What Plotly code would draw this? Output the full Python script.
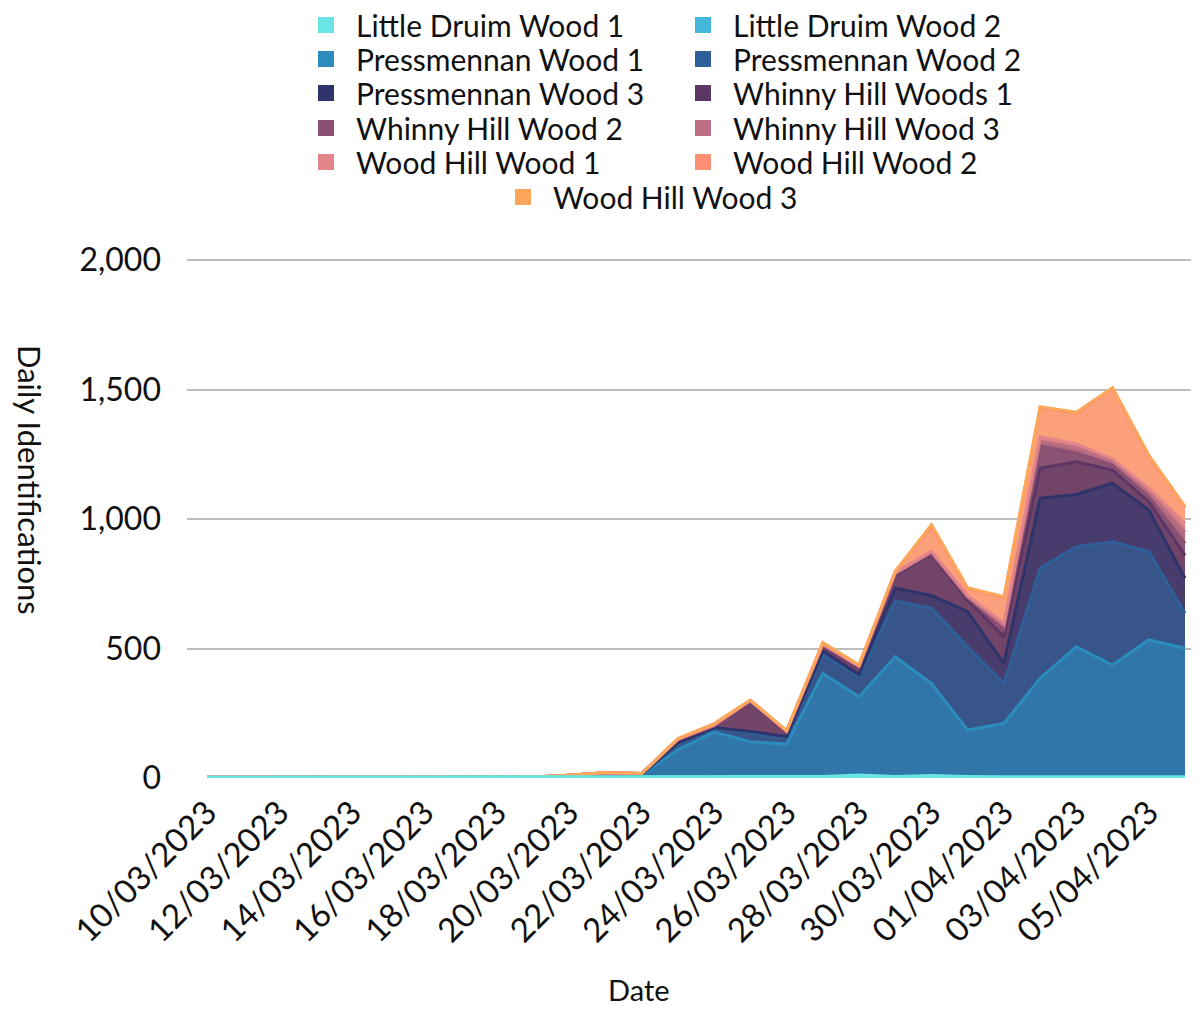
import plotly.graph_objects as go
import pandas as pd

dates = list(pd.date_range("2023-03-10", "2023-04-06", freq="D"))

series_names = [
    "Little Druim Wood 1", "Little Druim Wood 2",
    "Pressmennan Wood 1", "Pressmennan Wood 2", "Pressmennan Wood 3",
    "Whinny Hill Woods 1", "Whinny Hill Wood 2", "Whinny Hill Wood 3",
    "Wood Hill Wood 1", "Wood Hill Wood 2", "Wood Hill Wood 3",
]

N = None
little_druim_1 = [4, 4, 4, 4, 4, 4, 4, 4, 4, 4, 4, 4, 4, 5, 5, 5, 5, 6, 12, 6, 10, 6, 5, 5, 5, 5, 5, 5]
little_druim_2 = [N, N, N, N, N, N, N, N, N, N, N, N, N, N, N, N, N, N, N, N, N, N, N, N, N, N, N, N]
pressmennan_1 = [N, N, N, N, N, N, N, N, N, N, 2, 6, 8, 104, 172, 135, 126, 398, 302, 462, 355, 179, 206, 380, 502, 431, 528, 496]
pressmennan_2 = [N, N, N, N, N, N, N, N, N, N, 1, 2, 1, 22, 13, 34, 22, 71, 77, 216, 291, 322, 155, 425, 386, 476, 341, 135]
pressmennan_3 = [N, N, N, N, N, N, N, N, N, N, 1, 2, 1, 5, 5, 6, 7, 15, 9, 49, 49, 135, 77, 270, 202, 226, 161, 135]
whinny_1 = [N, N, N, N, N, N, N, N, N, N, 2, 4, 2, 10, 5, 115, 18, 20, 25, 50, 157, 45, 102, 116, 126, 51, 32, 89]
whinny_2 = [N, N, N, N, N, N, N, N, N, N, 1, 1, 1, 2, 2, 2, 1, 3, 3, 5, 6, 8, 30, 86, 34, 19, 19, 46]
whinny_3 = [N, N, N, N, N, N, N, N, N, N, 0, 0, 0, 1, 1, 1, 1, 2, 2, 2, 4, 5, 13, 18, 20, 14, 19, 44]
wood_hill_1 = [N, N, N, N, N, N, N, N, N, N, 0, 1, 0, 1, 1, 1, 1, 2, 2, 3, 4, 5, 10, 18, 15, 10, 13, 33]
wood_hill_2 = [N, N, N, N, N, N, N, N, N, N, 0, 1, 0, 1, 4, 1, 1, 4, 3, 3, 94, 25, 98, 112, 118, 270, 125, 61]
wood_hill_3 = [N, N, N, N, N, N, N, N, N, N, 0, 0, 0, 1, 2, 1, 1, 2, 2, 2, 8, 5, 4, 4, 4, 5, 4, 4]

series_values = [little_druim_1, little_druim_2, pressmennan_1, pressmennan_2, pressmennan_3,
                 whinny_1, whinny_2, whinny_3, wood_hill_1, wood_hill_2, wood_hill_3]

line_colors = ["#6ae5e7", "#43b7d7", "#2c8cbd", "#2e5f99", "#2e336b", "#5d3566",
               "#8a4f72", "#bc6f82", "#e1858a", "#fc8f73", "#fda75a"]
fill_colors = ["#6ae5e7", "#43b7d7", "#3176a8", "#38558a", "#483c6c", "#724468",
               "#8a5373", "#b06a80", "#d98287", "#fca07c", "#fcaa6a"]
# the Little Druim band is drawn over the rest, as in the reference
z_orders = [1, 1, 0, 0, 0, 0, 0, 0, 0, 0, 0]

FONT = "Lato"
W, H = 1199, 1010
OFF = 8  # page body margin
L, R, T, B = 187 - OFF, 0, 259 - OFF, H - (778 - OFF)
PW, PH = W - L - R, H - T - B


def fx(px):  # screen px -> paper x
    return (px - OFF - L) / PW


def fy(py):  # screen px -> paper y
    return (H - B - (py - OFF)) / PH


# legend rows: (legend id, row centre y screen px, first symbol centre x screen px)
legend_rows = [("legend", 26, 326), ("legend2", 60, 326), ("legend3", 94, 326),
               ("legend4", 129, 326), ("legend5", 163, 326), ("legend6", 198, 523)]
legend_of_trace = ["legend", "legend", "legend2", "legend2", "legend3", "legend3",
                   "legend4", "legend4", "legend5", "legend5", "legend6"]

fig = go.Figure()
for name, vals, lc, fc, z in zip(series_names, series_values, line_colors, fill_colors, z_orders):
    xs = [d for d, v in zip(dates, vals) if v is not None]
    ys = [v for v in vals if v is not None]
    fig.add_trace(go.Scatter(
        x=xs, y=ys, name=name, mode="lines",
        stackgroup="one", line=dict(color=lc, width=3),
        fillcolor=fc, showlegend=False, legendgroup=name, zorder=z,
    ))
for name, lc, lg in zip(series_names, line_colors, legend_of_trace):
    fig.add_trace(go.Scatter(
        x=[None], y=[None], name=name, mode="markers",
        marker=dict(symbol="square", size=20, color=lc),
        legendgroup=name, legend=lg, showlegend=True,
    ))

legend_layout = {}
for lid, cy, sx in legend_rows:
    legend_layout[lid] = dict(
        orientation="h", xref="container", yref="container",
        x=(sx - OFF - 30) / W, xanchor="left", y=1 - (cy - OFF - 1) / H, yanchor="middle",
        font=dict(size=30, family=FONT, color="#111111"),
        entrywidth=312, entrywidthmode="pixels", itemwidth=50,
        itemsizing="trace", bgcolor="rgba(0,0,0,0)",
    )

fig.update_layout(
    width=W, height=H,
    margin=dict(l=L, r=R, t=T, b=B, autoexpand=False),
    paper_bgcolor="white", plot_bgcolor="white",
    font=dict(family=FONT, color="#111111"),
    showlegend=True,
    xaxis=dict(
        type="date",
        range=["2023-03-09 10:45", "2023-04-06 14:34"],
        tick0="2023-03-10", dtick=2 * 86400000,
        tickformat="%d/%m/%Y", tickangle=-45,
        tickfont=dict(size=33, family=FONT, color="#111111"),
        showgrid=False, showline=True, linecolor="#666666", linewidth=2,
        ticks="", zeroline=False, automargin=False,
    ),
    yaxis=dict(
        range=[0, 2004], tickvals=[0, 500, 1000, 1500, 2000],
        ticktext=["0", "500", "1,000", "1,500", "2,000"],
        tickfont=dict(size=32, family=FONT, color="#111111"),
        showgrid=True, gridcolor="#bdbdbd", gridwidth=2,
        zeroline=False, ticks="", ticklabelstandoff=25, automargin=False,
    ),
    annotations=[
        dict(text="Daily Identifications", xref="paper", yref="paper",
             x=fx(30), y=fy(480), xanchor="center", yanchor="middle",
             showarrow=False, textangle=90,
             font=dict(size=31, family=FONT, color="#111111")),
        dict(text="Date", xref="paper", yref="paper",
             x=fx(639), y=fy(989), xanchor="center", yanchor="middle", showarrow=False,
             font=dict(size=29, family=FONT, color="#111111")),
    ],
    **legend_layout,
)

fig.write_html("out.html")
